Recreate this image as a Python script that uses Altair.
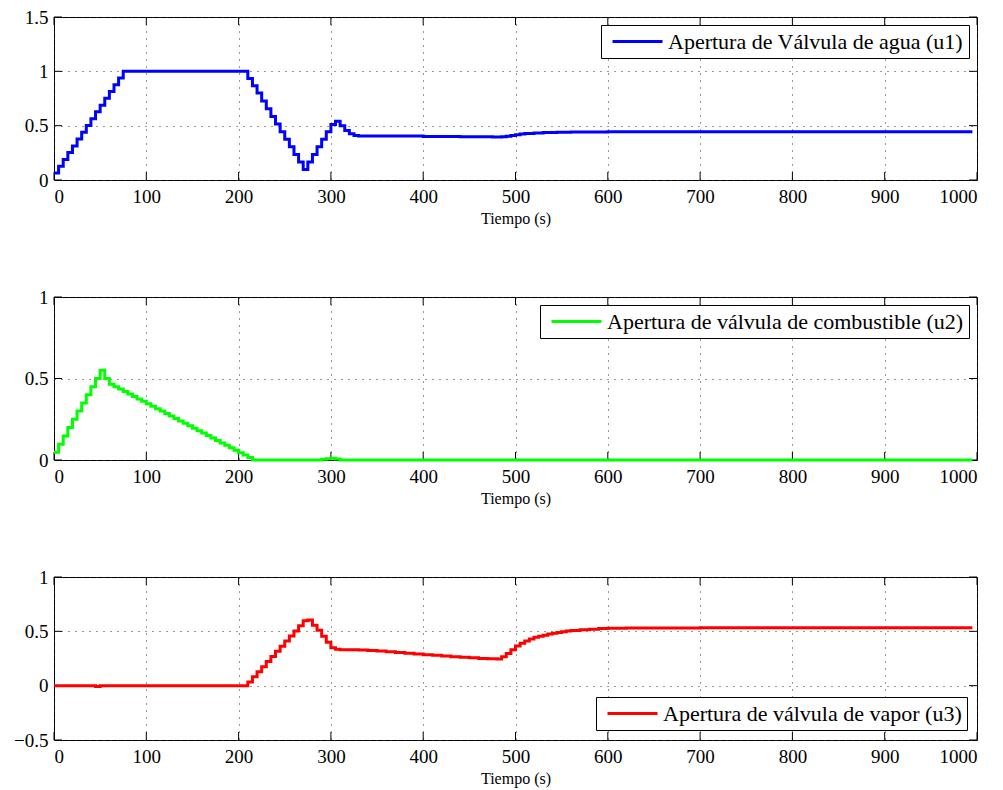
import altair as alt
import pandas as pd

FONT = "Liberation Serif"
W, H = 923, 163
TICK = 8

x_ticks = [0, 100, 200, 300, 400, 500, 600, 700, 800, 900, 1000]
y1_ticks = [0, 0.5, 1, 1.5]
y2_ticks = [0, 0.5, 1]
y3_ticks = [-0.5, 0, 0.5, 1]

label1 = "Apertura de Válvula de agua (u1)"
label2 = "Apertura de válvula de combustible (u2)"
label3 = "Apertura de válvula de vapor (u3)"

# u1 : water valve opening (zero-order hold breakpoints)
u1_t = [0, 5, 10, 15, 20, 25, 30, 35, 40, 45, 50, 55, 60, 65, 70, 75,
        210, 215, 220, 225, 230, 235, 240, 245, 250, 255, 260, 265, 270,
        275, 280, 285, 290, 295, 300, 305, 310, 315, 320, 325, 330,
        360, 400, 440, 475, 485, 490, 495, 500, 505, 510, 520, 530, 545,
        560, 600, 700, 800, 995]
u1_v = [0.064, 0.127, 0.189, 0.252, 0.314, 0.377, 0.439, 0.502, 0.564, 0.627,
        0.689, 0.752, 0.814, 0.877, 0.939, 1.0,
        0.935, 0.868, 0.80, 0.728, 0.655, 0.585, 0.515, 0.445, 0.375, 0.305,
        0.235, 0.165, 0.097,
        0.165, 0.235, 0.305, 0.375, 0.445, 0.51, 0.54, 0.50, 0.455, 0.425,
        0.41, 0.405,
        0.405, 0.40, 0.397, 0.395, 0.398, 0.403, 0.41, 0.417, 0.423, 0.428,
        0.433, 0.437, 0.44, 0.442, 0.444, 0.445, 0.445, 0.445]

# u2 : fuel valve opening
u2_t = [0, 5, 10, 15, 20, 25, 30, 35, 40, 45, 50, 55,
        60, 65, 70, 75, 80, 85, 90, 95, 100, 105, 110, 115, 120, 125, 130,
        135, 140, 145, 150, 155, 160, 165, 170, 175, 180, 185, 190, 195,
        200, 205, 210, 215,
        290, 295, 300, 305, 310, 995]
u2_v = [0.047, 0.097, 0.147, 0.20, 0.25, 0.30, 0.35, 0.40, 0.45, 0.50, 0.55, 0.50,
        0.465, 0.45, 0.435, 0.42, 0.405, 0.39, 0.375, 0.36, 0.345, 0.33, 0.315,
        0.30, 0.285, 0.27, 0.255, 0.24, 0.225, 0.21, 0.195, 0.18, 0.165, 0.15,
        0.135, 0.12, 0.105, 0.09, 0.075, 0.06, 0.045, 0.03, 0.015, 0.0,
        0.004, 0.008, 0.01, 0.006, 0.0, 0.0]

# u3 : steam valve opening
u3_t = [0, 45, 50, 210, 215, 220, 225, 230, 235, 240, 245, 250, 255, 260, 265,
        270, 275, 280, 285, 290, 295, 300, 305, 310,
        320, 330, 340, 350, 360, 370, 380, 390, 400, 410, 420, 430, 440, 450,
        460, 470, 480, 485, 490, 495, 500, 505, 510, 515, 520, 525, 530, 535,
        540, 545, 550, 555, 560, 570, 580, 590, 600, 620, 650, 700, 995]
u3_v = [0.0, -0.008, 0.0, 0.034, 0.081, 0.128, 0.175, 0.222, 0.269, 0.316,
        0.363, 0.41, 0.457, 0.504, 0.551, 0.598, 0.605, 0.555, 0.51, 0.455,
        0.40, 0.35, 0.335, 0.33,
        0.33, 0.328, 0.324, 0.319, 0.313, 0.306, 0.299, 0.292, 0.285, 0.279,
        0.273, 0.267, 0.261, 0.256, 0.251, 0.247, 0.245, 0.265, 0.295, 0.33,
        0.365, 0.39, 0.41, 0.43, 0.445, 0.455, 0.465, 0.475, 0.483, 0.49,
        0.497, 0.503, 0.508, 0.515, 0.52, 0.525, 0.528, 0.53, 0.531, 0.532,
        0.532]


def panel(t, v, label, color, ydom, yvals, lorient, loffset):
    df = pd.DataFrame({"t": t, "v": v, "serie": [label] * len(t)})
    x_enc = alt.X("t:Q", scale=alt.Scale(domain=[0, 1000], nice=False, zero=False),
                  axis=alt.Axis(values=x_ticks, format="d", title="Tiempo (s)",
                                labelFont=FONT, titleFont=FONT))
    y_enc = alt.Y("v:Q", scale=alt.Scale(domain=ydom, nice=False, zero=False),
                  axis=alt.Axis(values=yvals, format="~g", title=None,
                                labelFont=FONT))
    xt = pd.DataFrame({"t": x_ticks})
    yt = pd.DataFrame({"v": yvals})
    tb = alt.Chart(xt).mark_rule(color="black", strokeWidth=1).encode(
        x=x_enc, y=alt.value(H), y2=alt.value(H - TICK))
    tt = alt.Chart(xt).mark_rule(color="black", strokeWidth=1).encode(
        x=x_enc, y=alt.value(0), y2=alt.value(TICK))
    tl = alt.Chart(yt).mark_rule(color="black", strokeWidth=1).encode(
        y=y_enc, x=alt.value(0), x2=alt.value(TICK))
    tr = alt.Chart(yt).mark_rule(color="black", strokeWidth=1).encode(
        y=y_enc, x=alt.value(W), x2=alt.value(W - TICK))
    line = alt.Chart(df).mark_line(interpolate="step-after", strokeWidth=3).encode(
        x=x_enc, y=y_enc,
        color=alt.Color("serie:N", scale=alt.Scale(domain=[label], range=[color]),
                        legend=alt.Legend(title=None, orient=lorient, offset=loffset,
                                          strokeColor="black", fillColor="white",
                                          padding=5, symbolType="M-2.5,0H2.5",
                                          symbolSize=400, symbolStrokeWidth=3,
                                          symbolOffset=20,
                                          labelFont=FONT, labelFontSize=22,
                                          labelColor="black", labelOffset=19,
                                          labelLimit=600)))
    return alt.layer(tb, tt, tl, tr, line).properties(width=W, height=H)


p1 = panel(u1_t, u1_v, label1, "#0000FF", [0, 1.5], y1_ticks, "top-right", 8)
p2 = panel(u2_t, u2_v, label2, "#00FF00", [0, 1], y2_ticks, "top-right", 8)
p3 = panel(u3_t, u3_v, label3, "#FF0000", [-0.5, 1], y3_ticks, "bottom-right", 10)

chart = alt.vconcat(p1, p2, p3, spacing=60).resolve_scale(
    color="independent").resolve_legend(color="independent").properties(
    padding={"left": 13, "top": 7, "right": 5, "bottom": 5},
    background="white"
).configure_view(stroke="black", strokeWidth=1).configure_axis(
    grid=True, gridDash=[1, 6], gridColor="#333333", gridWidth=1,
    ticks=False, domain=False,
    labelFont=FONT, labelFontSize=19, labelColor="black",
    titleFont=FONT, titleFontSize=16, titleFontWeight="normal", titleColor="black"
).configure_axisX(labelPadding=7, titlePadding=4).configure_axisY(labelPadding=6)

chart.save("out.html", embed_options={"renderer": "svg", "actions": False})
